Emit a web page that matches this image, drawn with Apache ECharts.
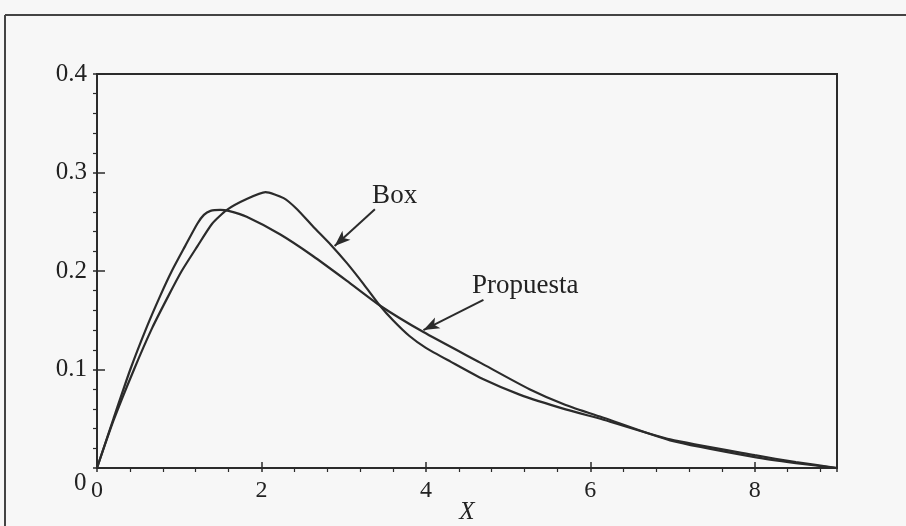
<!DOCTYPE html>
<html><head><meta charset="utf-8">
<script src="https://cdn.jsdelivr.net/npm/echarts@6/dist/echarts.min.js"></script>
<style>html,body{margin:0;padding:0;background:#f7f7f7}#c{width:906px;height:526px}</style>
</head><body><div id="c"></div>
<script>
// Data
const boxX = [0, 0.2, 0.45, 0.67, 0.87, 1.03, 1.22, 1.40, 1.58, 1.82, 2.05, 2.27, 2.43, 2.63, 2.84, 3.04, 3.24, 3.44, 3.6, 3.8, 4.0, 4.3, 4.7, 5.14, 5.7, 6.16, 6.97, 8.0, 8.5, 9.0];
const boxY = [0, 0.048, 0.100, 0.142, 0.175, 0.200, 0.225, 0.248, 0.262, 0.273, 0.280, 0.274, 0.263, 0.245, 0.227, 0.208, 0.187, 0.165, 0.150, 0.134, 0.122, 0.108, 0.090, 0.0745, 0.0595, 0.049, 0.029, 0.013, 0.006, 0];
const propX = [0, 0.2, 0.405, 0.6, 0.77, 0.91, 1.07, 1.22, 1.30, 1.38, 1.50, 1.60, 1.82, 2.23, 2.63, 3.04, 3.44, 3.97, 4.66, 5.26, 5.7, 6.16, 6.97, 8.0, 8.5, 9.0];
const propY = [0, 0.050, 0.100, 0.142, 0.175, 0.200, 0.225, 0.248, 0.257, 0.261, 0.262, 0.261, 0.255, 0.237, 0.215, 0.190, 0.165, 0.138, 0.107, 0.080, 0.064, 0.051, 0.028, 0.011, 0.005, 0];
const seriesNames = ['Box', 'Propuesta'];
const annoPoints = [[3.34, 0.276], [4.555, 0.185]];
const arrowFrom = [[3.38, 0.2626], [4.70, 0.1706]];
const arrowTo = [[2.89, 0.2254], [3.97, 0.140]];
const xRange = [0, 9];
const yRange = [0, 0.4];
const xStep = 2;
const yStep = 0.1;
const xTitle = 'X';
const originLabel = '0';

const ink = '#2b2b2b';
const serif = '"Liberation Serif", "DejaVu Serif", serif';

const chart = echarts.init(document.getElementById('c'));
const pairs = (xs, ys) => xs.map((x, i) => [x, ys[i]]);

const baseX = {
  type: 'value', min: xRange[0], max: xRange[1], interval: xStep, gridIndex: 0, position: 'bottom',
  splitLine: { show: false }
};
const baseY = {
  type: 'value', min: yRange[0], max: yRange[1], interval: yStep, gridIndex: 0, position: 'left',
  splitLine: { show: false }
};

chart.setOption({
  backgroundColor: '#f7f7f7',
  animation: false,
  grid: { left: 97, right: 69, top: 74, bottom: 58, containLabel: false, outerBoundsMode: 'none',
          show: true, borderColor: ink, borderWidth: 2, backgroundColor: 'transparent' },
  graphic: [
    { type: 'line', shape: { x1: 5, y1: 15, x2: 906, y2: 15 }, style: { stroke: '#444', lineWidth: 2 } },
    { type: 'line', shape: { x1: 5, y1: 15, x2: 5, y2: 526 }, style: { stroke: '#444', lineWidth: 2 } }
  ],
  xAxis: [
    Object.assign({}, baseX, {
      axisLine: { show: true, lineStyle: { color: ink, width: 2 } },
      axisTick: { show: true, inside: false, length: 4, lineStyle: { color: ink, width: 1.5 } },
      minorTick: { show: true, splitNumber: 5, length: 4, lineStyle: { color: ink, width: 1.2 } },
      axisLabel: { show: true, margin: 11, fontFamily: serif, fontSize: 24, color: '#222', showMaxLabel: false },
      name: xTitle, nameLocation: 'middle', nameGap: 44, nameMoveOverlap: false,
      nameTextStyle: { fontFamily: serif, fontSize: 25, fontStyle: 'italic', color: '#222', verticalAlign: 'middle' }
    }),
    Object.assign({}, baseX, {
      axisLine: { show: false },
      axisTick: { show: true, inside: true, length: 6, lineStyle: { color: ink, width: 1.5 } },
      axisLabel: { show: false }
    })
  ],
  yAxis: [
    Object.assign({}, baseY, {
      axisLine: { show: true, lineStyle: { color: ink, width: 2 } },
      axisTick: { show: true, inside: false, length: 4, lineStyle: { color: ink, width: 1.5 } },
      minorTick: { show: true, splitNumber: 5, length: 4, lineStyle: { color: ink, width: 1.2 } },
      axisLabel: { show: true, margin: 10, fontFamily: serif, fontSize: 25, color: '#222', showMinLabel: false }
    }),
    Object.assign({}, baseY, {
      axisLine: { show: false },
      axisTick: { show: true, inside: true, length: 8, lineStyle: { color: ink, width: 1.5 } },
      axisLabel: { show: false }
    })
  ],
  series: [
    {
      name: seriesNames[0], type: 'line', xAxisIndex: 0, yAxisIndex: 0,
      data: pairs(boxX, boxY), showSymbol: false, symbol: 'none', smooth: 0.2,
      lineStyle: { color: ink, width: 2.2 },
      markLine: {
        silent: true, symbol: ['none', 'arrow'], symbolSize: [9, 16],
        lineStyle: { color: ink, width: 2, type: 'solid' },
        label: { show: false },
        data: arrowFrom.map((p, i) => [{ coord: p }, { coord: arrowTo[i] }])
      },
      markPoint: {
        silent: true, symbol: 'circle', symbolSize: 1, itemStyle: { color: 'rgba(0,0,0,0)' },
        data: [
          ...annoPoints.map((p, i) => ({
            coord: p, name: seriesNames[i],
            label: { show: true, position: 'right', distance: 0, formatter: seriesNames[i], fontFamily: serif, fontSize: 27, color: '#222' }
          })),
          {
            coord: [xRange[0], yRange[0]], name: originLabel,
            label: { show: true, position: 'left', distance: 10, offset: [0, 15], formatter: originLabel, fontFamily: serif, fontSize: 25, color: '#222' }
          }
        ]
      }
    },
    {
      name: seriesNames[1], type: 'line', xAxisIndex: 0, yAxisIndex: 0,
      data: pairs(propX, propY), showSymbol: false, symbol: 'none', smooth: 0.2,
      lineStyle: { color: ink, width: 2.2 }
    }
  ]
});
</script>
</body></html>
